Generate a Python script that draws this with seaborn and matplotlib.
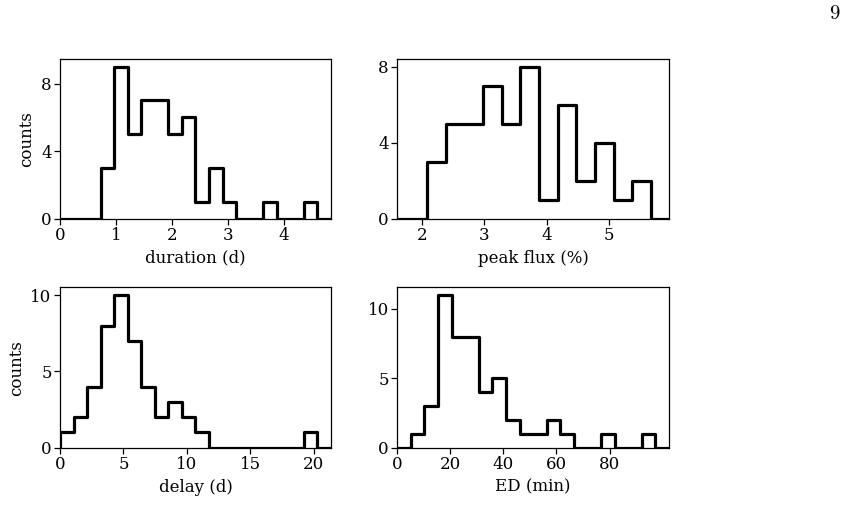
import numpy as np
import pandas as pd
import matplotlib
matplotlib.use("Agg")
import matplotlib.pyplot as plt
import seaborn as sns

# histogram counts (20 or 15 equal bins per panel)
duration_counts = [0, 0, 0, 3, 9, 5, 7, 7, 5, 6, 1, 3, 1, 0, 0, 1, 0, 0, 1, 0]
duration_range = (0.0, 4.84)

flux_counts = [0, 0, 3, 5, 5, 7, 5, 8, 1, 6, 2, 4, 1, 2, 0]
flux_range = (1.497, 5.96)

delay_counts = [1, 2, 4, 8, 10, 7, 4, 2, 3, 2, 1, 0, 0, 0, 0, 0, 0, 0, 1, 0]
delay_range = (0.0, 21.35)

ed_counts = [0, 1, 3, 11, 8, 8, 4, 5, 2, 1, 1, 2, 1, 0, 0, 1, 0, 0, 1, 0]
ed_range = (0.0, 102.4)

sns.set_style("ticks")
plt.rcParams["font.family"] = ["DejaVu Serif"]
plt.rcParams["font.size"] = 12
plt.rcParams["axes.linewidth"] = 0.9
for key in ["text.color", "axes.labelcolor", "xtick.color", "ytick.color", "axes.edgecolor"]:
    plt.rcParams[key] = "black"


def step_hist(ax, counts, rng):
    # pad one empty bin each side so the outline drops to zero like plt.hist(step)
    edges = np.linspace(rng[0], rng[1], len(counts) + 1)
    w = edges[1] - edges[0]
    edges = np.concatenate([[rng[0] - w], edges, [rng[1] + w]])
    df = pd.DataFrame({
        "x": (edges[:-1] + edges[1:]) / 2,
        "n": np.concatenate([[0], counts, [0]]),
    })
    # bins as a plain list (seaborn compares bins to "auto")
    sns.histplot(data=df, x="x", weights="n", bins=edges.tolist(), element="step",
                 fill=False, color="black", linewidth=2.3, ax=ax)
    ax.set_ylim(0, max(counts) * 1.05)


fig = plt.figure(figsize=(8.45, 5.05), dpi=100)
ax1 = fig.add_axes([0.0710, 0.5669, 0.3207, 0.3162])
ax2 = fig.add_axes([0.4702, 0.5669, 0.3215, 0.3162])
ax3 = fig.add_axes([0.0710, 0.1135, 0.3207, 0.3172])
ax4 = fig.add_axes([0.4702, 0.1135, 0.3215, 0.3172])

step_hist(ax1, duration_counts, duration_range)
ax1.set_xlim(0, 4.84)
ax1.set_xticks([0, 1, 2, 3, 4])
ax1.set_yticks([0, 4, 8])
ax1.set_xlabel("duration (d)")
ax1.set_ylabel("counts")

step_hist(ax2, flux_counts, flux_range)
ax2.set_xlim(1.611, 5.953)
ax2.set_xticks([2, 3, 4, 5])
ax2.set_yticks([0, 4, 8])
ax2.set_xlabel("peak flux (%)")
ax2.set_ylabel("")

step_hist(ax3, delay_counts, delay_range)
ax3.set_xlim(0, 21.35)
ax3.set_xticks([0, 5, 10, 15, 20])
ax3.set_yticks([0, 5, 10])
ax3.set_xlabel("delay (d)")
ax3.set_ylabel("counts")

step_hist(ax4, ed_counts, ed_range)
ax4.set_xlim(0, 102.4)
ax4.set_xticks([0, 20, 40, 60, 80])
ax4.set_yticks([0, 5, 10])
ax4.set_xlabel("ED (min)")
ax4.set_ylabel("")

for ax in [ax1, ax2, ax3, ax4]:
    ax.tick_params(length=4, width=0.9, pad=2, colors="black")
    for s in ax.spines.values():
        s.set_visible(True)
        s.set_color("black")

# page number from the paper
fig.text(0.993, 0.972, "9", family="cmr10", fontsize=15, ha="right", va="center")

fig.savefig("out.png", dpi=100)
